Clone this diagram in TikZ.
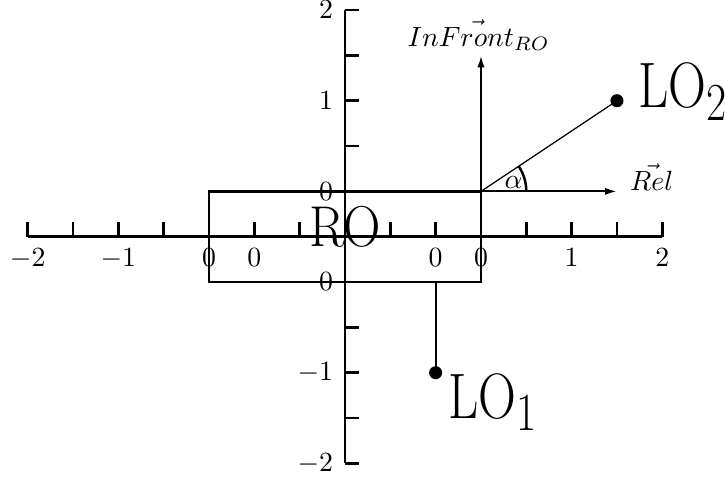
\documentclass[tikz,border=0pt]{standalone}
\usepackage{graphicx}
\usetikzlibrary{arrows.meta}
\begin{document}
\begin{tikzpicture}[x=16.32pt,y=16.32pt,
  axis/.style={line width=1pt},
  tick/.style={line width=0.9pt},
  box/.style={line width=0.85pt},
  vecarrow/.style={line width=0.75pt,-{Latex[length=4.3pt,width=2.6pt]}},
  thin link/.style={line width=0.45pt},
  dot/.style={circle,fill=black,inner sep=0pt,minimum size=4.7pt},
  xlab/.style={anchor=north,inner sep=0pt,font=\fontsize{10}{12}\selectfont},
  ylab/.style={anchor=east,inner sep=0pt,font=\fontsize{10}{12}\selectfont},
  big/.style={inner sep=0pt},
  lab/.style={inner sep=0pt,font=\fontsize{10}{12}\selectfont}]
\useasboundingbox (-7.611,-5.301) rectangle (8.383,5.222);
% axes
\coordinate (xl) at (-7,0); \coordinate (xr) at (7,0);
\coordinate (yb) at (0,-5); \coordinate (yt) at (0,5);
\draw[axis] (xl) -- (xr);
\draw[axis] (yb) -- (yt);
\foreach \i in {-7,...,7} \draw[tick] (\i,0) -- (\i,0.33);
\foreach \j in {-5,...,5} \draw[tick] (0,\j) -- (0.31,\j);
% x labels
\node[xlab] (xa) at (-7,-0.25) {$-2$};
\node[xlab] (xb) at (-5,-0.25) {$-1$};
\node[xlab] (xc) at (-3,-0.25) {$0$};
\node[xlab] (xd) at (-2,-0.25) {$0$};
\node[xlab] (xe) at (2,-0.25) {$0$};
\node[xlab] (xf) at (3,-0.25) {$0$};
\node[xlab] (xg) at (5,-0.25) {$1$};
\node[xlab] (xh) at (7,-0.25) {$2$};
% y labels
\node[ylab] (ya) at (-0.25,5) {$2$};
\node[ylab] (yb2) at (-0.25,3) {$1$};
\node[ylab] (yc) at (-0.25,1) {$0$};
\node[ylab] (yd) at (-0.25,-1) {$0$};
\node[ylab] (ye) at (-0.25,-3) {$-1$};
\node[ylab] (yf) at (-0.25,-5) {$-2$};
% RO rectangle
\coordinate (rtl) at (-3,1); \coordinate (rbr) at (3,-1);
\coordinate (o) at (3,1);
\draw[box] (rtl) rectangle (rbr);
\node[inner sep=0pt,anchor=base] (ro) at (0,-0.227) {\scalebox{0.9}[1]{\huge RO}};
% LO1
\coordinate (lo1top) at (2,-1);
\node[dot] (p1) at (2,-3) {};
\draw[line width=0.75pt] (lo1top) -- (p1.center);
\node[big,anchor=base west] (lo1) at (2.27,-4.0) {\scalebox{0.76}[0.93]{\Huge LO$_1$}};
% vectors
\coordinate (front) at (3,4);
\coordinate (rel) at (6,1);
\draw[vecarrow] (o) -- (front);
\draw[vecarrow] (o) -- (rel);
\node[lab,anchor=base] (frontlab) at (2.95,4.2) {$In\vec{Front}_{RO}$};
\node[lab,anchor=base west] (rellab) at (6.28,1.02) {$\vec{Rel}$};
% LO2
\node[dot] (p2) at (6,3) {};
\draw[thin link] (o) -- (p2.center);
\node[big,anchor=base west] (lo2) at (6.46,2.84) {\scalebox{0.76}[0.93]{\Huge LO$_2$}};
% angle
\draw[line width=0.9pt] (4,1) arc[start angle=0,end angle=33.69,radius=1];
\node[inner sep=0pt,font=\fontsize{10}{12}\selectfont] (alpha) at (3.72,1.2) {$\alpha$};
\end{tikzpicture}
\end{document}
